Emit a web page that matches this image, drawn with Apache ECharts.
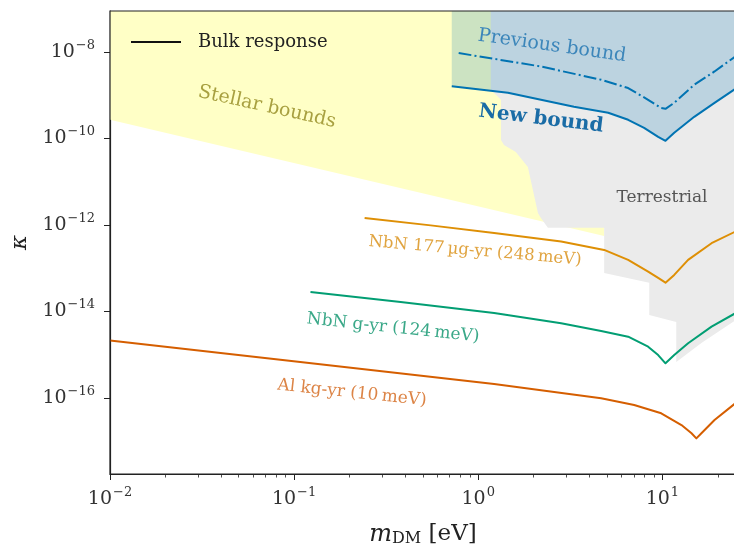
<!DOCTYPE html>
<html>
<head>
<meta charset="utf-8">
<script src="https://cdn.jsdelivr.net/npm/echarts@6/dist/echarts.min.js"></script>
<style>
html,body{margin:0;padding:0;background:#fff;}
#chart{width:734px;height:549px;}
</style>
</head>
<body>
<div id="chart"></div>
<script>
// ---- axis ranges (log10 units) ----
const xRangeLog = [-2, 1.4];
const yRangeLog = [-17.76, -7.05];
const xMajorTicks = [-2, -1, 0, 1];
const yMajorTicks = [-16, -14, -12, -10, -8];

// ---- data (m_DM in eV, kappa) ----
const newBoundM = [0.718, 1.45, 3.31, 5.08, 6.52, 7.96, 9.49, 10.4, 11.6, 14.9, 19.2, 24.9];
const newBoundK = [1.61e-9, 1.14e-9, 5.42e-10, 3.94e-10, 2.71e-10, 1.77e-10, 1.09e-10, 8.85e-11, 1.36e-10, 3.18e-10, 6.70e-10, 1.41e-9];

const prevBoundM = [0.783, 2.19, 4.65, 6.52, 8.37, 9.86, 10.4, 11.6, 14.9, 19.2, 24.9];
const prevBoundK = [9.48e-9, 4.64e-9, 2.29e-9, 1.47e-9, 7.87e-10, 5.06e-10, 4.87e-10, 6.70e-10, 1.75e-9, 3.56e-9, 7.91e-9];

const nbn177M = [0.2415, 0.552, 1.22, 2.82, 4.83, 6.52, 8.37, 9.49, 10.4, 11.6, 13.8, 18.5, 24.9];
const nbn177K = [1.46e-12, 9.8e-13, 6.56e-13, 4.13e-13, 2.65e-13, 1.56e-13, 8.34e-14, 5.96e-14, 4.64e-14, 7.0e-14, 1.56e-13, 3.79e-13, 7.03e-13];

const nbnGM = [0.1227, 0.379, 1.22, 2.82, 4.65, 6.52, 8.37, 9.49, 10.4, 11.6, 13.8, 18.5, 24.9];
const nbnGK = [2.83e-14, 1.66e-14, 9.2e-15, 5.33e-15, 3.54e-15, 2.61e-15, 1.53e-15, 9.8e-16, 6.32e-16, 9.8e-16, 1.84e-15, 4.45e-15, 9.08e-15];

const alM = [0.01, 0.108, 1.22, 4.65, 7.03, 9.86, 12.7, 14.4, 15.3, 16.3, 19.2, 24.9];
const alK = [2.13e-15, 6.78e-16, 2.10e-16, 9.8e-17, 6.85e-17, 4.40e-17, 2.36e-17, 1.52e-17, 1.16e-17, 1.52e-17, 3.08e-17, 7.5e-17];

const stellarM = [0.01, 4.83];
const stellarK = [2.71e-10, 5.6e-13];

const topK = 8.9e-8;
const terrM = [1.17, 25.1, 25.1, 16.3, 11.9, 11.9, 8.49, 8.49, 4.83, 4.83, 2.39, 2.19, 2.11, 1.86, 1.60, 1.38, 1.33, 1.33, 1.17];
const terrK = [topK, topK, 6.4e-15, 1.87e-15, 6.8e-16, 5.7e-15, 8.3e-15, 4.6e-14, 7.8e-14, 8.6e-13, 8.6e-13, 1.46e-12, 1.9e-12, 2.2e-11, 4.9e-11, 7.1e-11, 9.3e-11, 7.9e-10, 1.34e-9];

const xMinorTicks = [];
for (let n = -2; n <= 1; n++) for (let k = 2; k <= 9; k++) {
  const v = n + Math.log10(k);
  if (v <= xRangeLog[1]) xMinorTicks.push(v);
}

const L = Math.log10;
const pairs = (ms, ks) => ms.map((m, i) => [L(m), L(ks[i])]);

const FONT = 'DejaVu Serif';
const C = {blue:'#0173b2', orange:'#de8f05', green:'#029e73', red:'#d55e00'};

function powLabel(v) {
  const e = Math.round(v);
  return '{b|10}{s|' + (e < 0 ? '\u2212' : '') + Math.abs(e) + '}';
}
const richLab = {
  b: {fontFamily: FONT, fontSize: 19, color: '#333'},
  s: {fontFamily: FONT, fontSize: 13, color: '#333', padding: [0, 0, 13, 1]}
};

const chart = echarts.init(document.getElementById('chart'), null, {renderer: 'canvas'});
const option = {
  animation: false,
  backgroundColor: '#fff',
  grid: {left: 110, top: 11, right: -2, bottom: 75, show: true, borderColor: '#222', borderWidth: 1.2,
    backgroundColor: 'transparent', z: 10, containLabel: false, outerBoundsMode: 'none'},
  legend: {
    left: 126, top: 28, icon: 'rect', itemWidth: 50, itemHeight: 2, itemGap: 0,
    data: ['Bulk response'],
    textStyle: {fontFamily: FONT, fontSize: 18, color: '#222', padding: [0, 0, 0, 12]}
  },
  xAxis: [{
    type: 'value', min: xRangeLog[0], max: xRangeLog[1],
    name: '{m|m}{sub|DM}{n| [eV]}', nameLocation: 'middle', nameGap: 48,
    nameTextStyle: {rich: {
      m: {fontFamily: FONT, fontStyle: 'italic', fontSize: 24, color: '#222'},
      sub: {fontFamily: FONT, fontSize: 16, color: '#222', padding: [9, 0, 0, 0]},
      n: {fontFamily: FONT, fontSize: 23, color: '#222'}
    }},
    axisLine: {show: true, onZero: false, lineStyle: {color: '#222', width: 1.2}},
    splitLine: {show: false},
    axisTick: {show: true, inside: false, length: 6, customValues: xMajorTicks, lineStyle: {color: '#222', width: 1}},
    axisLabel: {customValues: xMajorTicks, formatter: powLabel, rich: richLab, margin: 12}
  }, {
    type: 'value', min: xRangeLog[0], max: xRangeLog[1], position: 'bottom',
    axisLine: {show: false, onZero: false}, splitLine: {show: false},
    axisTick: {show: true, inside: false, length: 3.5, customValues: xMinorTicks, lineStyle: {color: '#222', width: 0.8}},
    axisLabel: {show: false}
  }],
  yAxis: [{
    type: 'value', min: yRangeLog[0], max: yRangeLog[1],
    name: '\u03BA', nameLocation: 'middle', nameGap: 78, nameRotate: 90,
    nameTextStyle: {fontFamily: FONT, fontStyle: 'italic', fontSize: 23, color: '#222'},
    axisLine: {show: true, onZero: false, lineStyle: {color: '#222', width: 1.2}},
    splitLine: {show: false},
    axisTick: {show: true, inside: false, length: 6, customValues: yMajorTicks, lineStyle: {color: '#222', width: 1}},
    axisLabel: {customValues: yMajorTicks, formatter: powLabel, rich: richLab, margin: 15}
  }],
  series: [
    {
      name: 'stellar', type: 'line', data: pairs(stellarM, stellarK), showSymbol: false,
      lineStyle: {width: 0}, areaStyle: {origin: 'end', color: '#ffffc6', opacity: 1}, z: 1, silent: true
    },
    {
      name: 'terrestrial', type: 'custom', z: 2, silent: true,
      renderItem: function (params, api) {
        const pts = terrM.map((m, i) => api.coord([L(m), L(terrK[i])]));
        return {type: 'polygon', shape: {points: pts}, style: {fill: '#ebebeb'}};
      },
      data: [0]
    },
    {
      name: 'New bound', type: 'line', data: pairs(newBoundM, newBoundK), showSymbol: false,
      lineStyle: {color: C.blue, width: 2, join: 'round'}, itemStyle: {color: C.blue},
      areaStyle: {origin: 'end', color: C.blue, opacity: 0.2}, z: 3
    },
    {
      name: 'Previous bound', type: 'line', data: pairs(prevBoundM, prevBoundK), showSymbol: false,
      lineStyle: {color: C.blue, width: 2, type: [12.8, 3.2, 2, 3.2]}, z: 4
    },
    {
      name: 'NbN 177', type: 'line', data: pairs(nbn177M, nbn177K), showSymbol: false,
      lineStyle: {color: C.orange, width: 2, join: 'round'}, z: 4
    },
    {
      name: 'NbN g', type: 'line', data: pairs(nbnGM, nbnGK), showSymbol: false,
      lineStyle: {color: C.green, width: 2, join: 'round'}, z: 4
    },
    {
      name: 'Al', type: 'line', data: pairs(alM, alK), showSymbol: false,
      lineStyle: {color: C.red, width: 2, join: 'round'}, z: 4
    },
    {
      name: 'Bulk response', type: 'line', data: [], itemStyle: {color: '#111'}, lineStyle: {color: '#111'}
    }
  ],
  graphic: [
    {type: 'text', x: 267, y: 107, rotation: -12.5 * Math.PI / 180, z: 50,
      style: {text: 'Stellar bounds', fontFamily: FONT, fontSize: 19, fill: '#a8a040', align: 'center', verticalAlign: 'middle'}},
    {type: 'text', x: 552, y: 46, rotation: -8 * Math.PI / 180, z: 50,
      style: {text: 'Previous bound', fontFamily: FONT, fontSize: 19, fill: '#3c86ba', align: 'center', verticalAlign: 'middle'}},
    {type: 'text', x: 541, y: 119, rotation: -7 * Math.PI / 180, z: 50,
      style: {text: 'New bound', fontFamily: FONT, fontSize: 20, fontWeight: 'bold', fill: '#1a6ca6', align: 'center', verticalAlign: 'middle'}},
    {type: 'text', x: 662, y: 198, z: 50,
      style: {text: 'Terrestrial', fontFamily: FONT, fontSize: 17, fill: '#555', align: 'center', verticalAlign: 'middle'}},
    {type: 'text', x: 475, y: 251, rotation: -5 * Math.PI / 180, z: 50,
      style: {text: 'NbN 177\u2009\u00B5g-yr (248\u2009meV)', fontFamily: FONT, fontSize: 16.5, fill: '#e0a440', align: 'center', verticalAlign: 'middle'}},
    {type: 'text', x: 393, y: 328, rotation: -6 * Math.PI / 180, z: 50,
      style: {text: 'NbN g-yr (124\u2009meV)', fontFamily: FONT, fontSize: 17, fill: '#3aa888', align: 'center', verticalAlign: 'middle'}},
    {type: 'text', x: 352, y: 393, rotation: -6 * Math.PI / 180, z: 50,
      style: {text: 'Al kg-yr (10\u2009meV)', fontFamily: FONT, fontSize: 17, fill: '#dc8446', align: 'center', verticalAlign: 'middle'}}
  ]
};
chart.setOption(option);
</script>
</body>
</html>
